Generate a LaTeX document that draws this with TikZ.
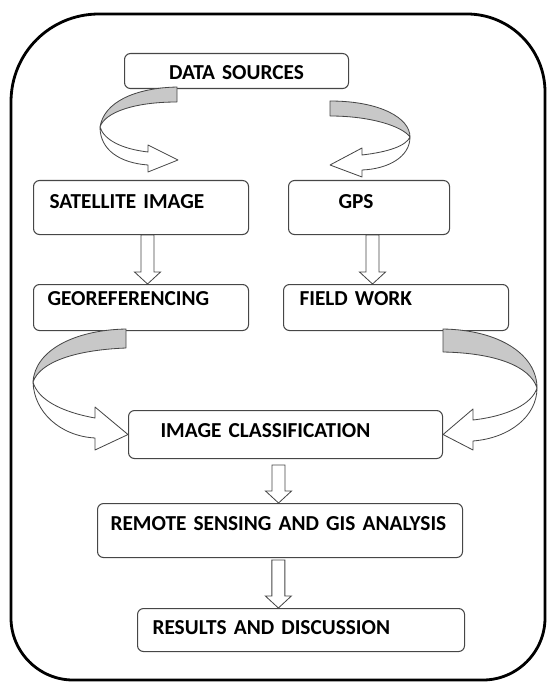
\documentclass[tikz,border=0pt]{standalone}
\usepackage{fontspec}
\setmainfont{Carlito}
\usepackage{tikz}
\usetikzlibrary{calc}
\definecolor{boxgray}{RGB}{70,70,70}
\definecolor{ribbongray}{RGB}{200,200,200}

\begin{document}
\begin{tikzpicture}[x=0.03cm,y=-0.03cm,thick,
    box/.style={draw=boxgray,line width=0.9pt,rounded corners=0.18cm,anchor=north west,inner ysep=0pt,align=left,font=\bfseries\fontsize{18.2}{21}\selectfont},
    down arrow/.style={draw=boxgray,fill=white,line width=0.7pt,
      to path={let \p1=(\tikztostart),\p2=(\tikztotarget) in
        (\x1-0.195cm,\y1) -- (\x1-0.195cm,\y2+0.36cm) -- (\x1-0.39cm,\y2+0.36cm) -- (\x1,\y2)
        -- (\x1+0.39cm,\y2+0.36cm) -- (\x1+0.195cm,\y2+0.36cm) -- (\x1+0.195cm,\y1) -- cycle}},
    ribbon back/.style={draw=boxgray,fill=ribbongray,line width=0.7pt,line join=round},
    ribbon front/.style={draw=boxgray,fill=white,line width=0.7pt,line join=round},
    frame/.style={draw=black,line width=2.4pt}]
  \useasboundingbox (0,0) rectangle (547,682);

  % outer frame
  \draw[frame] (11,102) .. controls (11,53) and (50,14) .. (99,14) -- (467,14)
    .. controls (510,14) and (545,49) .. (545,92) -- (545,618)
    .. controls (545,652) and (517,680) .. (483,680) -- (73,680)
    .. controls (39,680) and (11,652) .. (11,618) -- cycle;

  % boxes
  \node[box,align=center,inner xsep=0pt,text width=6.72cm,text height=0.765cm,text depth=0.285cm] (0) at (124,53) {DATA SOURCES};
  \node[box,inner xsep=0.48cm,text width=5.49cm,text height=0.84cm,text depth=0.78cm] (1) at (33,180) {SATELLITE IMAGE};
  \node[box,inner xsep=1.5cm,text width=1.83cm,text height=0.84cm,text depth=0.78cm] (2) at (288,180) {GPS};
  \node[box,inner xsep=0.42cm,text width=5.61cm,text height=0.63cm,text depth=0.75cm] (3) at (33,284) {GEOREFERENCING};
  \node[box,inner xsep=0.48cm,text width=5.79cm,text height=0.63cm,text depth=0.75cm] (4) at (283,284) {FIELD WORK};
  \node[box,inner xsep=0.96cm,text width=7.5cm,text height=0.81cm,text depth=0.63cm] (5) at (128,410) {IMAGE CLASSIFICATION};
  \node[box,inner xsep=0.39cm,text width=10.17cm,text height=0.81cm,text depth=0.81cm] (6) at (97,503) {REMOTE SENSING AND GIS ANALYSIS};
  \node[box,inner xsep=0.45cm,text width=8.91cm,text height=0.78cm,text depth=0.51cm] (7) at (137,608) {RESULTS AND DISCUSSION};

  % curved arrows
  \draw[ribbon back] (177,87) -- (177,102) .. controls (135,102) and (105,112) .. (100,127)
    .. controls (104,102) and (135,88) .. (177,87) -- cycle;
  \draw[ribbon front] (100,127) .. controls (100,150) and (120,163) .. (148,165) -- (148,172) -- (178,160)
    -- (148,145) -- (148,152) .. controls (122,149) and (104,140) .. (100,127) -- cycle;

  \draw[ribbon back] (330,101) .. controls (380,101) and (410,118) .. (410,137)
    .. controls (402,126) and (370,116) .. (330,116) -- cycle;
  \draw[ribbon front] (410,137) .. controls (410,157) and (388,169) .. (362,170) -- (362,177) -- (330,165)
    -- (362,148) -- (362,155) .. controls (388,152) and (406,146) .. (410,137) -- cycle;

  \draw[ribbon back] (126,329) -- (126,348) .. controls (75,350) and (40,362) .. (33,382)
    .. controls (35,350) and (75,330) .. (126,329) -- cycle;
  \draw[ribbon front] (33,382) .. controls (34,412) and (60,436) .. (95,438) -- (95,450) -- (5.west)
    -- (95,407) -- (95,418) .. controls (62,412) and (38,400) .. (33,382) -- cycle;

  \draw[ribbon back] (443,329) -- (443,352) .. controls (495,353) and (530,366) .. (537,388)
    .. controls (537,355) and (500,330) .. (443,329) -- cycle;
  \draw[ribbon front] (537,388) .. controls (537,416) and (510,438) .. (473,441) -- (473,450) -- (5.east)
    -- (473,409) -- (473,420) .. controls (508,416) and (532,404) .. (537,388) -- cycle;

  % straight arrows
  \draw[down arrow] ([xshift=0.195cm]1.south) to (3.north);
  \draw[down arrow] ([xshift=0.105cm]2.south) to (4.north);
  \draw[down arrow] ([xshift=-0.21cm,yshift=-0.18cm]5.south) to (6.north);
  \draw[down arrow] ([xshift=-0.05cm,yshift=-0.06cm]6.south) to (7.north);
\end{tikzpicture}
\end{document}
